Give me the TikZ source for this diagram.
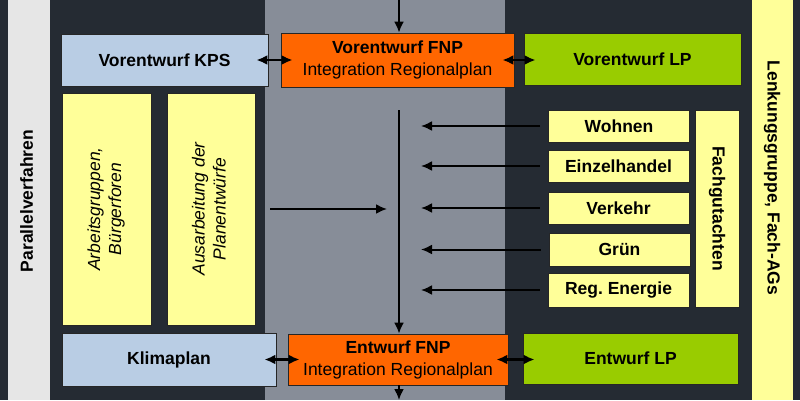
\documentclass[tikz,border=0pt]{standalone}
\usepackage{fontspec}
\setmainfont{Liberation Sans}
\usepackage{graphicx}
\usetikzlibrary{arrows.meta}
\definecolor{bgdark}{HTML}{252B33}
\definecolor{midgrey}{HTML}{878D98}
\definecolor{stripgrey}{HTML}{E6E6E6}
\definecolor{paleyellow}{HTML}{FFFF99}
\definecolor{paleblue}{HTML}{B9CDE4}
\definecolor{fnporange}{HTML}{FF6600}
\definecolor{lpgreen}{HTML}{99CC00}
\newcommand{\rotup}[1]{\rotatebox{90}{\begin{tabular}{@{}c@{}}#1\end{tabular}}}
\newcommand{\rotdown}[1]{\rotatebox{-90}{#1}}

\begin{document}
\begin{tikzpicture}[x=1pt, y=-1pt, >={Latex[length=11pt,width=10pt]},
    box/.style={draw=black!85, line width=0.8pt, inner sep=0pt, align=center,
      font=\fontsize{17.5}{22}\selectfont\bfseries},
    gutachten/.style={box, fill=paleyellow, minimum width=141pt, minimum height=32pt},
    flow/.style={->, line width=2pt},
    link/.style={<->, line width=2.5pt, shorten <=-12pt, shorten >=-12pt}]
				\useasboundingbox (0,0) rectangle (800,400);
				\fill[bgdark] (0,0) rectangle (800,400);
				\fill[midgrey] (265,0) rectangle (505,400);
				\fill[stripgrey] (8,0) rectangle (50,400);
				\fill[paleyellow] (752,0) rectangle (793,400);
				\node[font=\fontsize{17.5}{20}\selectfont\bfseries] (parallel) at (29,201) {\rotup{Parallelverfahren}};
				\node[font=\fontsize{17.5}{20}\selectfont\bfseries] (lenkung) at (772,178) {\rotdown{Lenkungsgruppe, Fach-AGs}};
				% obere Reihe
				\node[box, fill=paleblue, minimum width=207pt, minimum height=52pt] (kps) at (164.5,60) {Vorentwurf KPS};
				\node[box, fill=fnporange, minimum width=233pt, minimum height=54pt] (vfnp) at (397.5,60) {Vorentwurf FNP\\{\mdseries Integration Regionalplan}};
				\node[box, fill=lpgreen, minimum width=217pt, minimum height=52pt] (vlp) at (632.5,59) {Vorentwurf LP};
				% Beteiligung links
				\node[box, fill=paleyellow, minimum width=89pt, minimum height=232pt, font=\fontsize{17.5}{21}\selectfont\itshape] (ag) at (106.5,209) {\rotup{Arbeitsgruppen,\\Bürgerforen}};
				\node[box, fill=paleyellow, minimum width=88pt, minimum height=232pt, font=\fontsize{17.5}{21}\selectfont\itshape] (aus) at (211,209) {\rotup{Ausarbeitung der\\Planentwürfe}};
				% Fachgutachten rechts
				\node[gutachten] (wohnen) at (619,126) {Wohnen};
				\node[gutachten] (einzel) at (618.5,166) {Einzelhandel};
				\node[gutachten] (verkehr) at (618.5,208) {Verkehr};
				\node[gutachten, minimum height=33pt] (gruen) at (619.5,249.5) {Grün};
				\node[gutachten, minimum height=34pt] (energie) at (618.5,290) {Reg.\ Energie};
				\node[box, fill=paleyellow, minimum width=44pt, minimum height=197pt] (fach) at (717,208.5) {\rotdown{Fachgutachten}};
				% untere Reihe
				\node[box, fill=paleblue, minimum width=214pt, minimum height=53pt] (klima) at (169,359.5) {Klimaplan};
				\node[box, fill=fnporange, minimum width=220pt, minimum height=51pt] (efnp) at (398,359.5) {Entwurf FNP\\{\mdseries Integration Regionalplan}};
				\node[box, fill=lpgreen, minimum width=215pt, minimum height=51pt] (elp) at (630.5,358.5) {Entwurf LP};
				
				\coordinate (top) at (399,0);
				\coordinate (ls) at (399,110);
				\coordinate (bot) at (399,400);
				\draw[flow] (top) -- (top |- vfnp.north);
				\draw[flow] (ls) -- (ls |- efnp.north);
				\draw[flow] (bot |- efnp.south) -- (bot);
				\draw[flow, shorten <=15pt, shorten >=12pt] (aus.east) -- (aus.east -| ls);
				\foreach \g in {wohnen,einzel,verkehr,gruen,energie}
				\draw[flow, shorten <=8pt, shorten >=22pt] (\g.west) -- (\g.west -| ls);
				\draw[link] (kps) -- (vfnp);
				\draw[link] (vfnp.east) -- (vfnp.east -| vlp.west);
				\draw[link] (klima) -- (efnp);
				\draw[link] (efnp.east) -- (efnp.east -| elp.west);
\end{tikzpicture}
\end{document}
